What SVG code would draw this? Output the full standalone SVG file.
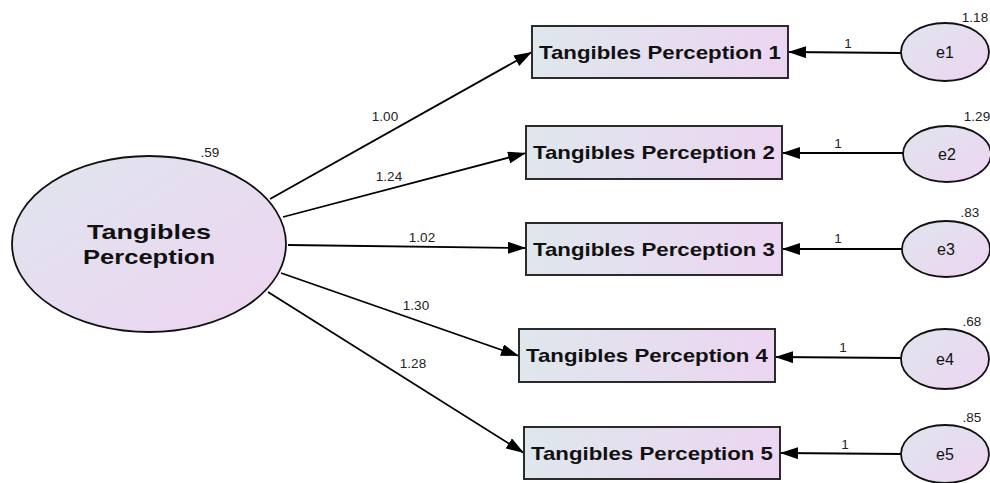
<svg xmlns="http://www.w3.org/2000/svg" width="990" height="483" viewBox="0 0 990 483">
  <defs>
    <linearGradient id="boxFill" x1="0" y1="0" x2="1" y2="0">
      <stop offset="0" stop-color="#dfe7ed"/>
      <stop offset="1" stop-color="#ecd5f1"/>
    </linearGradient>
    <linearGradient id="ovalFill" x1="0" y1="0" x2="1" y2="1">
      <stop offset="0" stop-color="#dfe5ee"/>
      <stop offset="1" stop-color="#eed4f1"/>
    </linearGradient>
    <marker id="head" markerUnits="userSpaceOnUse" markerWidth="20" markerHeight="12" refX="18" refY="6" orient="auto">
      <path d="M0,0 L18,6 L0,12 Z" fill="#000"/>
    </marker>
    <style>
      .box { fill: url(#boxFill); stroke: #2b2b2b; stroke-width: 2; }
      .oval { fill: url(#ovalFill); stroke: #111; stroke-width: 1.8; }
      .boxText { font-family: "Liberation Sans", Arial, sans-serif; font-weight: bold; font-size: 19px; fill: #111; text-anchor: middle; }
      .bigText { font-family: "Liberation Sans", Arial, sans-serif; font-weight: bold; font-size: 21px; fill: #111; text-anchor: middle; }
      .errText { font-family: "Liberation Sans", Arial, sans-serif; font-size: 16px; fill: #111; text-anchor: middle; }
      .num { font-family: "Liberation Sans", Arial, sans-serif; font-size: 13.5px; fill: #222; text-anchor: middle; }
      .edge { stroke: #000; stroke-width: 1.8; fill: none; marker-end: url(#head); }
    </style>
  </defs>

  <rect width="990" height="483" fill="#ffffff"/>

  <!-- connectors -->
  <g id="connectors">
    <line class="edge" x1="270" y1="199" x2="532" y2="52"/>
    <line class="edge" x1="283" y1="217" x2="526" y2="153"/>
    <line class="edge" x1="288" y1="245" x2="526" y2="248"/>
    <line class="edge" x1="281" y1="273" x2="519" y2="356"/>
    <line class="edge" x1="268" y1="292" x2="524" y2="453"/>
    <line class="edge" x1="901" y1="53" x2="788" y2="52"/>
    <line class="edge" x1="903" y1="153" x2="782" y2="153"/>
    <line class="edge" x1="902" y1="249" x2="782" y2="249"/>
    <line class="edge" x1="902" y1="358" x2="775" y2="357"/>
    <line class="edge" x1="902" y1="454" x2="780" y2="453"/>
    <text class="num" x="385" y="121">1.00</text>
    <text class="num" x="389" y="181">1.24</text>
    <text class="num" x="422" y="242">1.02</text>
    <text class="num" x="416" y="310">1.30</text>
    <text class="num" x="413" y="368">1.28</text>
    <text class="num" x="848" y="48">1</text>
    <text class="num" x="838" y="148">1</text>
    <text class="num" x="838" y="243">1</text>
    <text class="num" x="843" y="352">1</text>
    <text class="num" x="845" y="449">1</text>
  </g>

  <!-- latent factor -->
  <g id="tangibles">
    <ellipse class="oval" cx="149" cy="244" rx="137" ry="88"/>
    <text class="bigText" x="149" y="239" textLength="124" lengthAdjust="spacingAndGlyphs">Tangibles</text>
    <text class="bigText" x="149" y="264" textLength="132" lengthAdjust="spacingAndGlyphs">Perception</text>
    <text class="num" x="210" y="157">.59</text>
  </g>

  <!-- observed indicators -->
  <g id="tp1">
    <rect class="box" x="532" y="26" width="256" height="52"/>
    <text class="boxText" x="660" y="59" textLength="242" lengthAdjust="spacingAndGlyphs">Tangibles Perception 1</text>
  </g>
  <g id="tp2">
    <rect class="box" x="526" y="126" width="256" height="53"/>
    <text class="boxText" x="654" y="159" textLength="242" lengthAdjust="spacingAndGlyphs">Tangibles Perception 2</text>
  </g>
  <g id="tp3">
    <rect class="box" x="526" y="223" width="256" height="52"/>
    <text class="boxText" x="654" y="256" textLength="242" lengthAdjust="spacingAndGlyphs">Tangibles Perception 3</text>
  </g>
  <g id="tp4">
    <rect class="box" x="519" y="329" width="256" height="53"/>
    <text class="boxText" x="647" y="362" textLength="242" lengthAdjust="spacingAndGlyphs">Tangibles Perception 4</text>
  </g>
  <g id="tp5">
    <rect class="box" x="524" y="427" width="256" height="52"/>
    <text class="boxText" x="652" y="460" textLength="242" lengthAdjust="spacingAndGlyphs">Tangibles Perception 5</text>
  </g>

  <!-- error terms -->
  <g id="e1">
    <ellipse class="oval" cx="945" cy="52" rx="44" ry="29"/>
    <text class="errText" x="945" y="58">e1</text>
    <text class="num" x="975" y="22">1.18</text>
  </g>
  <g id="e2">
    <ellipse class="oval" cx="947" cy="154" rx="44" ry="28"/>
    <text class="errText" x="947" y="160">e2</text>
    <text class="num" x="977" y="121">1.29</text>
  </g>
  <g id="e3">
    <ellipse class="oval" cx="946" cy="249" rx="44" ry="28"/>
    <text class="errText" x="946" y="255">e3</text>
    <text class="num" x="970" y="217">.83</text>
  </g>
  <g id="e4">
    <ellipse class="oval" cx="945" cy="359" rx="44" ry="30"/>
    <text class="errText" x="945" y="365">e4</text>
    <text class="num" x="972" y="326">.68</text>
  </g>
  <g id="e5">
    <ellipse class="oval" cx="945" cy="454" rx="44" ry="29"/>
    <text class="errText" x="945" y="460">e5</text>
    <text class="num" x="972" y="422">.85</text>
  </g>
</svg>
